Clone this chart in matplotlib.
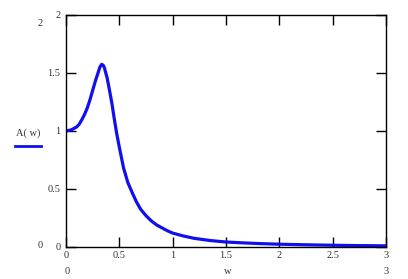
import matplotlib
matplotlib.use("Agg")
import matplotlib.pyplot as plt
from matplotlib.lines import Line2D

w = [0, 0.05, 0.1, 0.125, 0.15, 0.175, 0.2, 0.225, 0.25, 0.275, 0.3, 0.31, 0.32,
     0.335, 0.35, 0.36, 0.37, 0.385, 0.4, 0.415, 0.43, 0.45, 0.475, 0.5, 0.54,
     0.58, 0.62, 0.66, 0.7, 0.75, 0.8, 0.85, 0.9, 0.95, 1.0, 1.1, 1.2, 1.35, 1.5,
     1.65, 1.8, 2.0, 2.25, 2.5, 2.75, 3.0]
A = [1.0, 1.01, 1.035, 1.06, 1.10, 1.145, 1.20, 1.27, 1.35, 1.43, 1.50, 1.53, 1.555,
     1.575, 1.565, 1.545, 1.51, 1.46, 1.39, 1.315, 1.24, 1.12, 0.98, 0.86, 0.68,
     0.555, 0.47, 0.39, 0.325, 0.27, 0.225, 0.19, 0.165, 0.14, 0.12, 0.095, 0.075,
     0.056, 0.043, 0.036, 0.03, 0.024, 0.019, 0.015, 0.012, 0.01]
xticks = [0, 0.5, 1, 1.5, 2, 2.5, 3]
xticklabels = ["0", "0.5", "1", "1.5", "2", "2.5", "3"]
yticks = [0, 0.5, 1, 1.5, 2]
yticklabels = ["0", "0.5", "1", "1.5", "2"]

W, H = 408, 279
fig = plt.figure(figsize=(W / 100, H / 100), dpi=100)
plt.rcParams['font.family'] = ['Liberation Serif', 'DejaVu Serif']
fs = 7.5
tc = '#333333'

L, R, T, B = 66, 386, 15, 247
ax = fig.add_axes([L / W, (H - B) / H, (R - L) / W, (B - T) / H])
ax.plot(w, A, color='#1010ee', lw=2.3, solid_capstyle='round', solid_joinstyle='round')
ax.set_xlim(0, 3)
ax.set_ylim(0, 2)
ax.set_xticks(xticks)
ax.set_xticklabels(xticklabels)
ax.set_yticks(yticks)
ax.set_yticklabels(yticklabels)
ax.tick_params(direction='in', length=7, width=1, top=True, right=True,
               labelsize=fs, colors='black', labelcolor=tc)
ax.tick_params(axis='x', pad=3)
ax.tick_params(axis='y', pad=4)
for s in ax.spines.values():
    s.set_linewidth(1)

def ft(x, y, s, ha='center'):
    fig.text(x / W, 1 - y / H, s, ha=ha, va='center', fontsize=fs, color=tc)

ft(40, 23, "2")
ft(40, 245, "0")
ft(67, 271, "0")
ft(228, 271, "w")
ft(386, 271, "3")
ft(28, 133, "A( w)")
fig.add_artist(Line2D([15 / W, 41 / W], [1 - 146 / H, 1 - 146 / H],
                      color='#1010ee', lw=2.0, transform=fig.transFigure))

fig.savefig("out.png", dpi=100)
